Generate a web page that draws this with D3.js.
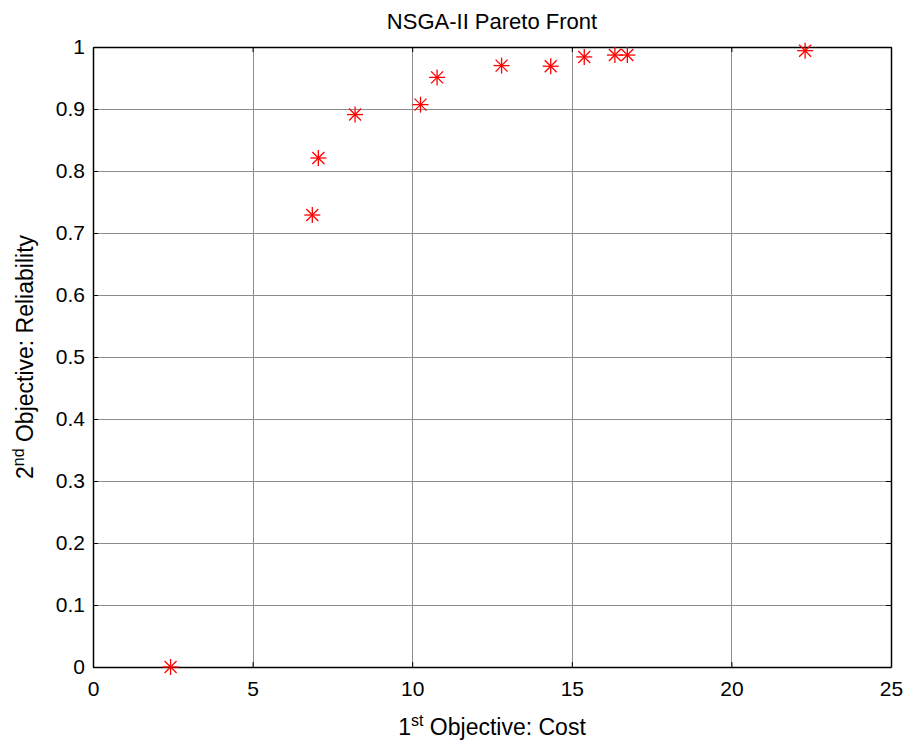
<!DOCTYPE html>
<html lang="en">
<head>
<meta charset="UTF-8">
<title>NSGA-II Pareto Front</title>
<script src="https://d3js.org/d3.v7.min.js"></script>
<style>
    body { margin: 0; background: #fff; }
    text { font-family: "Liberation Sans", Arial, sans-serif; fill: #000; }
    .grid line { stroke: #8c8c8c; stroke-width: 1px; }
    .star line { stroke: #ff0000; stroke-width: 1.3px; }
</style>
</head>
<body>
<svg width="907" height="740"></svg>
<script>
    // 1st objective (cost) and 2nd objective (reliability) of the front
    var cost        = [2.43, 6.87, 7.06, 8.21, 10.26, 10.78, 12.80, 14.34, 15.39, 16.35, 16.74, 22.31];
    var reliability = [0.000, 0.729, 0.821, 0.891, 0.907, 0.951, 0.970, 0.969, 0.984, 0.987, 0.987, 0.994];
    var xTicks = [0, 5, 10, 15, 20, 25];
    var yTicks = [0, 0.1, 0.2, 0.3, 0.4, 0.5, 0.6, 0.7, 0.8, 0.9, 1];

    var svg = d3.select("svg");
    var pLeft = 93, pRight = 891, pTop = 47, pBottom = 667;

    var x = d3.scaleLinear().domain([0, 25]).range([pLeft, pRight]);
    var y = d3.scaleLinear().domain([0, 1]).range([pBottom, pTop]);

    // grid
    var grid = svg.append("g").attr("class", "grid");
    grid.selectAll("line.vx").data(xTicks.slice(1, -1)).enter().append("line")
        .attr("x1", function(d) { return Math.round(x(d)) + 0.5; })
        .attr("x2", function(d) { return Math.round(x(d)) + 0.5; })
        .attr("y1", pTop).attr("y2", pBottom);
    grid.selectAll("line.hy").data(yTicks.slice(1, -1)).enter().append("line")
        .attr("y1", function(d) { return Math.round(y(d)) + 0.5; })
        .attr("y2", function(d) { return Math.round(y(d)) + 0.5; })
        .attr("x1", pLeft).attr("x2", pRight);

    // axes with inward ticks on all four sides
    var tl = 5;
    svg.append("g").attr("transform", "translate(0," + pBottom + ")")
        .call(d3.axisBottom(x).tickValues(xTicks).tickSizeInner(-tl).tickSizeOuter(0).tickPadding(14))
        .call(function(g) { g.selectAll("text").style("font-size", "21px"); });
    svg.append("g").attr("transform", "translate(0," + pTop + ")")
        .call(d3.axisTop(x).tickValues(xTicks).tickSizeInner(-tl).tickSizeOuter(0).tickFormat(""));
    svg.append("g").attr("transform", "translate(" + pLeft + ",0)")
        .call(d3.axisLeft(y).tickValues(yTicks).tickSizeInner(-tl).tickSizeOuter(0).tickPadding(8)
            .tickFormat(function(d) { return d === 0 || d === 1 ? d3.format("d")(d) : d3.format(".1f")(d); }))
        .call(function(g) { g.selectAll("text").style("font-size", "21px"); });
    svg.append("g").attr("transform", "translate(" + pRight + ",0)")
        .call(d3.axisRight(y).tickValues(yTicks).tickSizeInner(-tl).tickSizeOuter(0).tickFormat(""));
    svg.selectAll(".domain").attr("stroke", "#000").attr("stroke-width", 1.5);
    svg.selectAll(".tick line").attr("stroke", "#000");

    // markers
    var pts = cost.map(function(c, i) { return [c, reliability[i]]; });
    var r = 8, rd = 6;
    var star = svg.append("g").selectAll("g").data(pts).enter().append("g")
        .attr("class", "star")
        .attr("transform", function(d) { return "translate(" + x(d[0]) + "," + y(d[1]) + ")"; });
    star.append("line").attr("x1", -r).attr("x2", r).attr("y1", 0).attr("y2", 0);
    star.append("line").attr("x1", 0).attr("x2", 0).attr("y1", -r).attr("y2", r);
    star.append("line").attr("x1", -rd).attr("x2", rd).attr("y1", -rd).attr("y2", rd);
    star.append("line").attr("x1", -rd).attr("x2", rd).attr("y1", rd).attr("y2", -rd);

    // title and labels
    svg.append("text").attr("x", 492).attr("y", 29)
        .attr("text-anchor", "middle").style("font-size", "22px").text("NSGA-II Pareto Front");

    var xl = svg.append("text").attr("x", 492).attr("y", 735)
        .attr("text-anchor", "middle").style("font-size", "23px");
    xl.append("tspan").text("1");
    xl.append("tspan").attr("dy", -9).style("font-size", "16px").text("st");
    xl.append("tspan").attr("dy", 9).text(" Objective: Cost");

    var yl = svg.append("text").attr("transform", "translate(33," + ((pTop + pBottom) / 2) + ") rotate(-90)")
        .attr("text-anchor", "middle").style("font-size", "23px");
    yl.append("tspan").text("2");
    yl.append("tspan").attr("dy", -9).style("font-size", "16px").text("nd");
    yl.append("tspan").attr("dy", 9).text(" Objective: Reliability");
</script>
</body>
</html>
